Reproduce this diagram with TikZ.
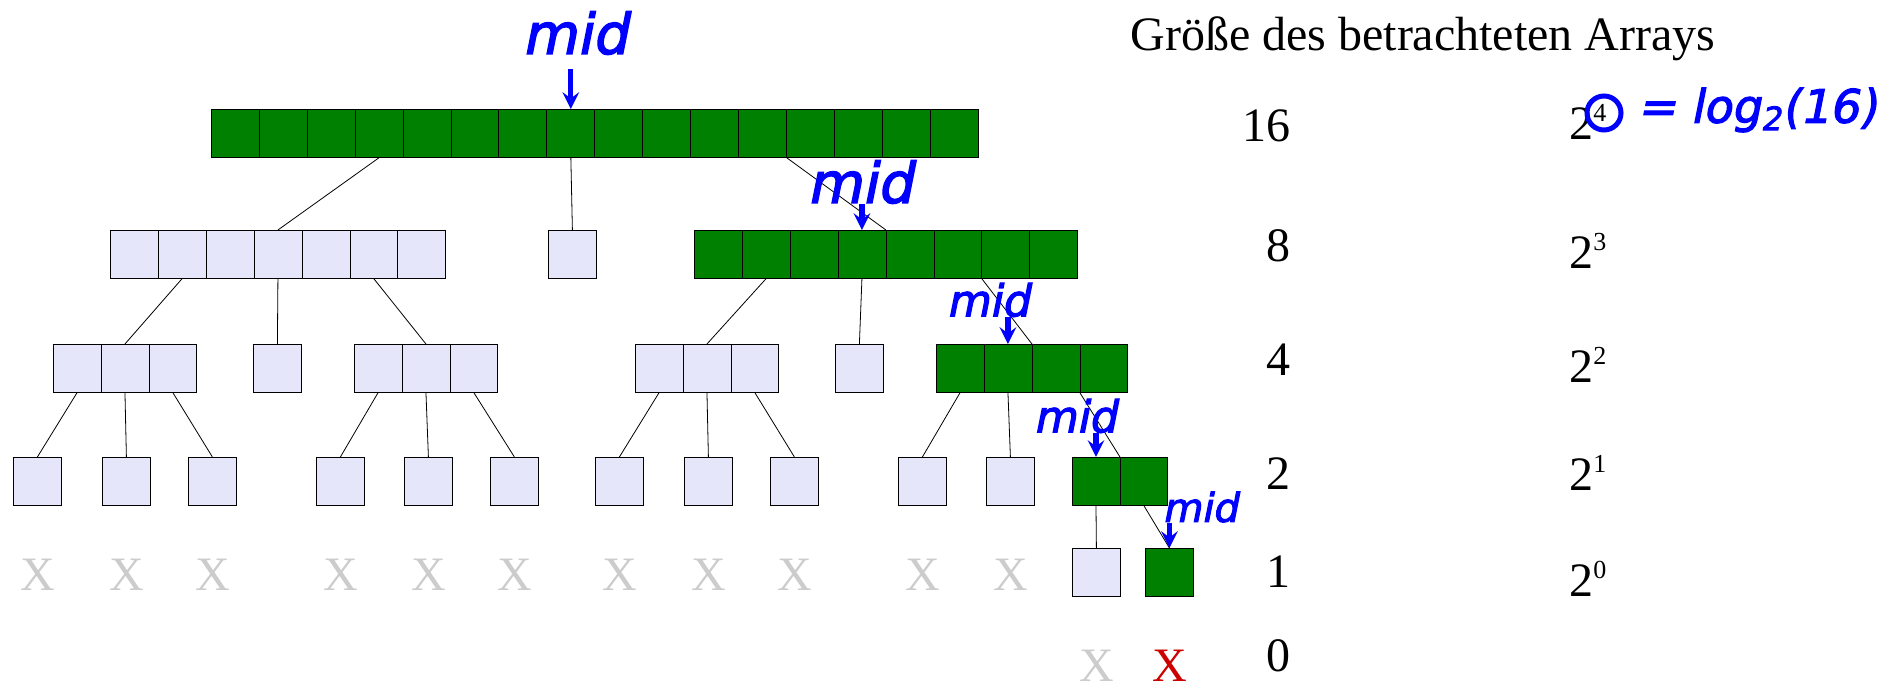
\documentclass[tikz,border=0pt]{standalone}
\usepackage{fontspec}
\setmainfont{Liberation Serif}
\newfontfamily\handfont[FakeBold=2.5,FakeSlant=0.2]{DejaVu Sans}
\usepackage{tikz}
\usetikzlibrary{positioning, shapes.multipart}
\definecolor{hitgreen}{RGB}{0,128,0}
\definecolor{misslight}{RGB}{230,230,250}
\definecolor{xgray}{RGB}{204,204,204}
\definecolor{xred}{RGB}{204,0,0}
\tikzstyle{every node}=[font=\fontsize{24}{28}\selectfont, inner sep=0pt]
\tikzstyle{arr} = [rectangle split, rectangle split horizontal, inner sep=0pt, rectangle split empty part width=19pt, rectangle split empty part height=24pt, rectangle split empty part depth=0pt, draw=black, anchor=north west]
\tikzstyle{box} = [rectangle, minimum size=24pt, draw=black, anchor=north west]
\tikzstyle{hit} = [fill=hitgreen]
\tikzstyle{miss} = [fill=misslight]
\tikzstyle{link} = [thin]
\tikzstyle{gone} = [text=xgray]
\tikzstyle{hand} = [text=blue, font=\handfont]
\tikzstyle{arrow} = [line width=2.6pt, blue, ->, >=stealth]

\begin{document}
\begin{tikzpicture}[x=0.5pt, y=-0.5pt]
  \useasboundingbox (0,0) rectangle (1892,683);
  %Arrays je Ebene
  \node (a) [arr, hit, rectangle split parts=16] at (211,109) {};
  
  \node (b) [arr, miss, rectangle split parts=7] at (110,230) {};
  \node (c) [box, miss] at (548,230) {};
  \node (d) [arr, hit, rectangle split parts=8] at (694,230) {};
  
  \node (e) [arr, miss, rectangle split parts=3] at (53,344) {};
  \node (f) [box, miss] at (253,344) {};
  \node (g) [arr, miss, rectangle split parts=3] at (354,344) {};
  \node (h) [arr, miss, rectangle split parts=3] at (635,344) {};
  \node (i) [box, miss] at (835,344) {};
  \node (j) [arr, hit, rectangle split parts=4] at (936,344) {};
  
  \node (s1) [box, miss] at (13,457) {};
  \node (s2) [box, miss] at (102,457) {};
  \node (s3) [box, miss] at (188,457) {};
  \node (s4) [box, miss] at (316,457) {};
  \node (s5) [box, miss] at (404,457) {};
  \node (s6) [box, miss] at (490,457) {};
  \node (s7) [box, miss] at (595,457) {};
  \node (s8) [box, miss] at (684,457) {};
  \node (s9) [box, miss] at (770,457) {};
  \node (s10) [box, miss] at (898,457) {};
  \node (s11) [box, miss] at (986,457) {};
  \node (k) [arr, hit, rectangle split parts=2] at (1072,457) {};
  
  \node (l) [box, miss] at (1072,548) {};
  \node (m) [box, hit] at (1145,548) {};
  
  %leere Teilarrays
  \node (x1) [gone, below=26.5pt of s1] {X};
  \node (x2) [gone, below=26.5pt of s2] {X};
  \node (x3) [gone, below=26.5pt of s3] {X};
  \node (x4) [gone, below=26.5pt of s4] {X};
  \node (x5) [gone, below=26.5pt of s5] {X};
  \node (x6) [gone, below=26.5pt of s6] {X};
  \node (x7) [gone, below=26.5pt of s7] {X};
  \node (x8) [gone, below=26.5pt of s8] {X};
  \node (x9) [gone, below=26.5pt of s9] {X};
  \node (x10) [gone, below=26.5pt of s10] {X};
  \node (x11) [gone, below=26.5pt of s11] {X};
  \node (y1) [gone, below=26.5pt of l] {X};
  \node (y2) [text=xred, below=26.5pt of m] {X};
  
  %Verbindungen
  \draw [link] (a.four south) -- (b.north);
  \draw [link] (a.eight south) -- (c.north);
  \draw [link] (a.twelve split south) -- (d.north);
  \draw [link] (b.two south) -- (e.north);
  \draw [link] (b.four south) -- (f.north);
  \draw [link] (b.six south) -- (g.north);
  \draw [link] (d.two south) -- (h.north);
  \draw [link] (d.four south) -- (i.north);
  \draw [link] (d.six split south) -- (j.north);
  \draw [link] (e.one south) -- (s1.north);
  \draw [link] (e.two south) -- (s2.north);
  \draw [link] (e.three south) -- (s3.north);
  \draw [link] (g.one south) -- (s4.north);
  \draw [link] (g.two south) -- (s5.north);
  \draw [link] (g.three south) -- (s6.north);
  \draw [link] (h.one south) -- (s7.north);
  \draw [link] (h.two south) -- (s8.north);
  \draw [link] (h.three south) -- (s9.north);
  \draw [link] (j.one south) -- (s10.north);
  \draw [link] (j.two south) -- (s11.north);
  \draw [link] (j.three split south) -- (k.north);
  \draw [link] (k.one south) -- (l.north);
  \draw [link] (k.two south) -- (m.north);
  
  %Groesse
  \node (title) [anchor=base west] at (1130,51) {Größe des betrachteten Arrays};
  \node (n16) [anchor=base east] at (1291,142) {16};
  \node (n8) [anchor=base east] at (1291,262) {8};
  \node (n4) [anchor=base east] at (1291,376) {4};
  \node (n2) [anchor=base east] at (1291,490) {2};
  \node (n1) [anchor=base east] at (1291,588) {1};
  \node (n0) [anchor=base east] at (1291,672) {0};
  \node (p4) [anchor=base west] at (1569,140) {2\raisebox{9.3pt}{\fontsize{13}{13}\selectfont 4}};
  \node (p3) [anchor=base west] at (1569,269) {2\raisebox{9.3pt}{\fontsize{13}{13}\selectfont 3}};
  \node (p2) [anchor=base west] at (1569,383) {2\raisebox{9.3pt}{\fontsize{13}{13}\selectfont 2}};
  \node (p1) [anchor=base west] at (1569,491) {2\raisebox{9.3pt}{\fontsize{13}{13}\selectfont 1}};
  \node (p0) [anchor=base west] at (1569,597) {2\raisebox{9.3pt}{\fontsize{13}{13}\selectfont 0}};
  
  %Handschrift
  \node (mid1) [hand, font=\handfont\fontsize{28}{30}\selectfont] at (575,33) {mid};
  \node (mid2) [hand, font=\handfont\fontsize{28}{30}\selectfont] at (860,182) {mid};
  \node (mid3) [hand, font=\handfont\fontsize{22}{24}\selectfont] at (988,300) {mid};
  \node (mid4) [hand, font=\handfont\fontsize{22}{24}\selectfont] at (1075,416) {mid};
  \node (mid5) [hand, font=\handfont\fontsize{20}{22}\selectfont] at (1200,507) {mid};
  \draw [arrow] ([yshift=-7pt]mid1.south -| a.eight north) -- (a.eight north);
  \draw [arrow] (mid2.south -| d.four north) -- (d.four north);
  \draw [arrow] (mid3.south -| j.two north) -- (j.two north);
  \draw [arrow] (mid4.south -| k.one north) -- (k.one north);
  \draw [arrow] (mid5.south -| m.north) -- (m.north);
  \node (ring) [circle, draw=blue, line width=2.5pt, minimum size=17pt] at (1604,113) {};
  \node (logtext) [hand, font=\handfont\fontsize{23}{26}\selectfont, anchor=west] at (1637,110) {= log\textsubscript{2}(16)};
\end{tikzpicture}
\end{document}
